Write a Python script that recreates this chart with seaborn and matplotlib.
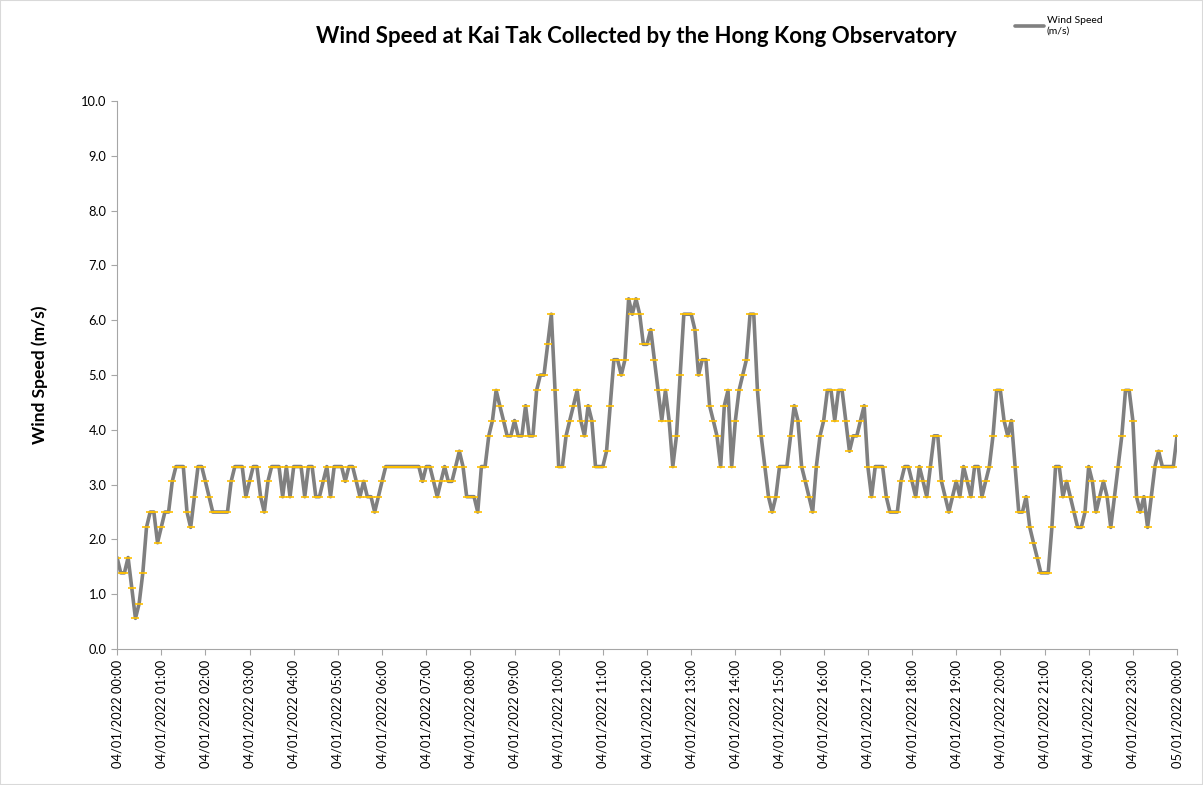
import numpy as np
import pandas as pd
import seaborn as sns
import matplotlib.pyplot as plt
import matplotlib.dates as mdates
from matplotlib.patches import Rectangle

# 5-minute wind speed readings (m/s), 04/01/2022 00:00 -> 05/01/2022 00:00
speed_00_06 = [
    1.67, 1.39, 1.39, 1.67, 1.11, 0.56, 0.83, 1.39, 2.22, 2.50, 2.50, 1.94,
    2.22, 2.50, 2.50, 3.06, 3.33, 3.33, 3.33, 2.50, 2.22, 2.78, 3.33, 3.33,
    3.06, 2.78, 2.50, 2.50, 2.50, 2.50, 2.50, 3.06, 3.33, 3.33, 3.33, 2.78,
    3.06, 3.33, 3.33, 2.78, 2.50, 3.06, 3.33, 3.33, 3.33, 2.78, 3.33, 2.78,
    3.33, 3.33, 3.33, 2.78, 3.33, 3.33, 2.78, 2.78, 3.06, 3.33, 2.78, 3.33,
    3.33, 3.33, 3.06, 3.33, 3.33, 3.06, 2.78, 3.06, 2.78, 2.78, 2.50, 2.78,
]
speed_06_12 = [
    3.06, 3.33, 3.33, 3.33, 3.33, 3.33, 3.33, 3.33, 3.33, 3.33, 3.33, 3.06,
    3.33, 3.33, 3.06, 2.78, 3.06, 3.33, 3.06, 3.06, 3.33, 3.61, 3.33, 2.78,
    2.78, 2.78, 2.50, 3.33, 3.33, 3.89, 4.17, 4.72, 4.44, 4.17, 3.89, 3.89,
    4.17, 3.89, 3.89, 4.44, 3.89, 3.89, 4.72, 5.00, 5.00, 5.56, 6.11, 4.72,
    3.33, 3.33, 3.89, 4.17, 4.44, 4.72, 4.17, 3.89, 4.44, 4.17, 3.33, 3.33,
    3.33, 3.61, 4.44, 5.28, 5.28, 5.00, 5.28, 6.39, 6.11, 6.39, 6.11, 5.56,
]
speed_12_18 = [
    5.56, 5.83, 5.28, 4.72, 4.17, 4.72, 4.17, 3.33, 3.89, 5.00, 6.11, 6.11,
    6.11, 5.83, 5.00, 5.28, 5.28, 4.44, 4.17, 3.89, 3.33, 4.44, 4.72, 3.33,
    4.17, 4.72, 5.00, 5.28, 6.11, 6.11, 4.72, 3.89, 3.33, 2.78, 2.50, 2.78,
    3.33, 3.33, 3.33, 3.89, 4.44, 4.17, 3.33, 3.06, 2.78, 2.50, 3.33, 3.89,
    4.17, 4.72, 4.72, 4.17, 4.72, 4.72, 4.17, 3.61, 3.89, 3.89, 4.17, 4.44,
    3.33, 2.78, 3.33, 3.33, 3.33, 2.78, 2.50, 2.50, 2.50, 3.06, 3.33, 3.33,
]
speed_18_24 = [
    3.06, 2.78, 3.33, 3.06, 2.78, 3.33, 3.89, 3.89, 3.06, 2.78, 2.50, 2.78,
    3.06, 2.78, 3.33, 3.06, 2.78, 3.33, 3.33, 2.78, 3.06, 3.33, 3.89, 4.72,
    4.72, 4.17, 3.89, 4.17, 3.33, 2.50, 2.50, 2.78, 2.22, 1.94, 1.67, 1.39,
    1.39, 1.39, 2.22, 3.33, 3.33, 2.78, 3.06, 2.78, 2.50, 2.22, 2.22, 2.50,
    3.33, 3.06, 2.50, 2.78, 3.06, 2.78, 2.22, 2.78, 3.33, 3.89, 4.72, 4.72,
    4.17, 2.78, 2.50, 2.78, 2.22, 2.78, 3.33, 3.61, 3.33, 3.33, 3.33, 3.33,
]
speed_end = [3.89]

speed = speed_00_06 + speed_06_12 + speed_12_18 + speed_18_24 + speed_end
times = pd.date_range("2022-01-04 00:00", "2022-01-05 00:00", freq="5min")
df = pd.DataFrame({"time": times, "speed": speed})

sns.set_style("white")
plt.rcParams['font.family'] = ['Lato', 'DejaVu Sans']

fig = plt.figure(figsize=(12.03, 7.85), dpi=100)
ax = fig.add_axes([0.0973, 0.1732, 0.8811, 0.6981])

sns.lineplot(data=df, x="time", y="speed", ax=ax, color="#808080", linewidth=2.6,
             marker="_", markersize=6, markeredgecolor="#FFC000", markeredgewidth=1.2,
             label="Wind Speed\n(m/s)")

ax.set_xlim(times[0], times[-1])
ax.set_ylim(0, 10)
ax.set_yticks(np.arange(0, 10.1, 1.0))
ax.yaxis.set_major_formatter(plt.FormatStrFormatter("%.1f"))
ax.xaxis.set_major_locator(mdates.HourLocator())
ax.xaxis.set_major_formatter(mdates.DateFormatter("%d/%m/%Y %H:%M"))
plt.setp(ax.get_xticklabels(), rotation=90)
ax.tick_params(axis="both", labelsize=9.3, colors="#000000", length=4, direction="out",
               left=True, bottom=True)
ax.tick_params(axis="both", color="#A6A6A6")
ax.set_xlabel("")
ax.set_ylabel("Wind Speed (m/s)", fontsize=12.5, fontweight="bold", color="#000000", labelpad=24)
for side in ["top", "right"]:
    ax.spines[side].set_visible(False)
for side in ["left", "bottom"]:
    ax.spines[side].set_color("#A6A6A6")

fig.text(0.529, 0.953, "Wind Speed at Kai Tak Collected by the Hong Kong Observatory",
         ha="center", va="center", fontsize=16, fontweight="bold", color="#000000")

leg = ax.legend(loc="upper left", bbox_to_anchor=(0.838, 1.172), frameon=False,
                fontsize=7.5, handlelength=2.8, handletextpad=0.3, labelspacing=0.2)
for line in leg.get_lines():
    line.set_marker("")
for t in leg.get_texts():
    t.set_color("#000000")

fig.patches.append(Rectangle((0, 0), 1, 1, transform=fig.transFigure, fill=False,
                             edgecolor="#D9D9D9", linewidth=1.5))

plt.savefig("out.png", dpi=100)
